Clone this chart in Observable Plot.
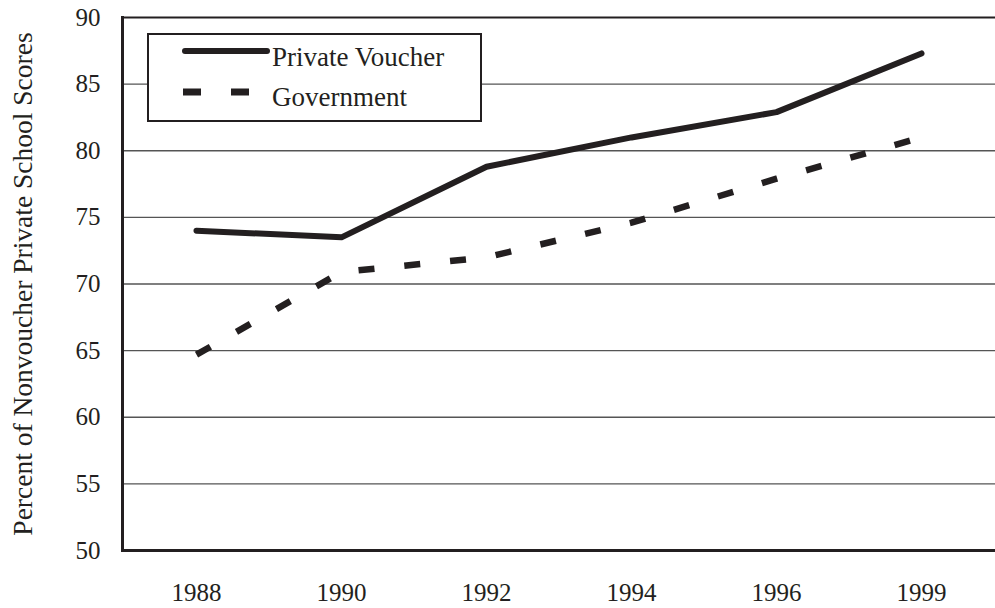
<!DOCTYPE html>
<html>
<head>
<meta charset="utf-8">
<script src="https://cdn.jsdelivr.net/npm/d3@7"></script>
<script src="https://cdn.jsdelivr.net/npm/@observablehq/plot@0.6"></script>
<style>
  html, body { margin: 0; padding: 0; background: #fff; }
  #wrap { position: relative; width: 995px; height: 608px; font-family: "Liberation Serif", "Times New Roman", serif; }
  #legend { position: absolute; left: 147px; top: 33px; width: 331px; height: 85px; border: 2px solid #231f20; background: #fff; }
  #legend svg { position: absolute; left: 0; top: 0; }
  #legend .lab { position: absolute; left: 123px; font-size: 27px; color: #231f20; line-height: 1; white-space: nowrap; }
</style>
</head>
<body>
<div id="wrap"></div>
<script>
const years = ["1988", "1990", "1992", "1994", "1996", "1999"];
const privateVoucher = [74.0, 73.5, 78.8, 81.0, 82.9, 87.3];
const government = [64.7, 70.9, 72.0, 74.6, 77.9, 81.0];
const yTicks = [50, 55, 60, 65, 70, 75, 80, 85, 90];
const seriesNames = ["Private Voucher", "Government"];
const yLabel = "Percent of Nonvoucher Private School Scores";

const ink = "#231f20";
const pv = years.map((y, i) => ({year: y, value: privateVoucher[i]}));
const gv = years.map((y, i) => ({year: y, value: government[i]}));

const chart = Plot.plot({
  width: 995,
  height: 608,
  marginLeft: 122,
  marginRight: 0,
  marginTop: 17,
  marginBottom: 58,
  style: {fontFamily: '"Liberation Serif", "Times New Roman", serif', fontSize: "25px", color: ink, background: "#fff"},
  x: {type: "point", domain: years, padding: 0.51, label: null, tickSize: 0, tickPadding: 33},
  y: {domain: [50, 90], ticks: yTicks, label: null, tickSize: 0, tickPadding: 22},
  marks: [
    Plot.ruleY(yTicks.filter(t => t > 50 && t < 90), {stroke: "#555", strokeWidth: 1.3}),
    Plot.ruleY([90], {stroke: ink, strokeWidth: 2}),
    Plot.ruleY([50], {stroke: ink, strokeWidth: 3}),
    Plot.frame({anchor: "left", stroke: ink, strokeWidth: 3}),
    Plot.line(pv, {x: "year", y: "value", stroke: ink, strokeWidth: 6, strokeLinecap: "round", strokeLinejoin: "round"}),
    Plot.line(gv, {x: "year", y: "value", stroke: ink, strokeWidth: 6.5, strokeLinecap: "butt", strokeDasharray: "16,30"}),
    Plot.text([yLabel], {frameAnchor: "left", textAnchor: "middle", rotate: -90, dx: -99, fontSize: 27.5, fill: ink})
  ]
});

const wrap = document.getElementById("wrap");
wrap.appendChild(chart);

const legend = document.createElement("div");
legend.id = "legend";
legend.innerHTML = `
<svg width="331" height="85">
  <line x1="36" y1="16" x2="118" y2="16" stroke="${ink}" stroke-width="6" stroke-linecap="round"/>
  <line x1="34" y1="57" x2="100" y2="57" stroke="${ink}" stroke-width="7" stroke-dasharray="18,30"/>
</svg>
<div class="lab" style="top:9px">${seriesNames[0]}</div>
<div class="lab" style="top:49px">${seriesNames[1]}</div>`;
wrap.appendChild(legend);
</script>
</body>
</html>
